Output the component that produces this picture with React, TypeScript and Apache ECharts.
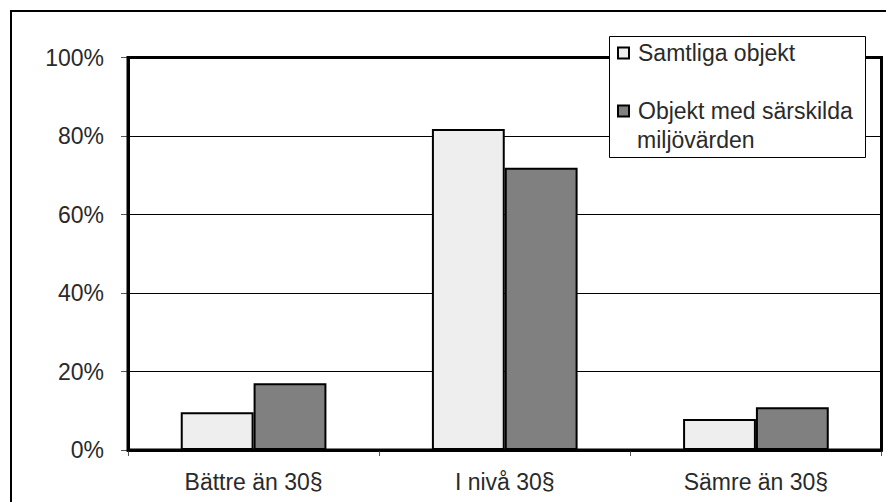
import React, { useEffect, useRef } from "react";
import * as echarts from "echarts";

const categories = ["Bättre än 30§", "I nivå 30§", "Sämre än 30§"];
const seriesNames = ["Samtliga objekt", "Objekt med särskilda"];
const samtliga = [9.6, 81.8, 7.9];
const sarskilda = [17.0, 71.9, 10.9];
const legendSecondLine = "miljövärden";

const FONT = "'Liberation Sans', Arial, sans-serif";
const TXT = "#2a2a2a";
const FS = 23;

export default function App() {
  const ref = useRef<HTMLDivElement>(null);
  useEffect(() => {
    if (!ref.current) return;
    const chart = echarts.init(ref.current, null, { renderer: "svg" });
    chart.setOption({
      animation: false,
      backgroundColor: "#fff",
      textStyle: { fontFamily: FONT },
      grid: {
        left: 128,
        right: 4.5,
        top: 57.5,
        bottom: 52,
        show: true,
        borderColor: "#000",
        borderWidth: 3,
        z: 2,
      },
      legend: {
        orient: "vertical",
        left: 617,
        top: 41.5,
        padding: 0,
        itemWidth: 11,
        itemHeight: 11,
        itemGap: 35,
        icon: "rect",
        z: 20,
        data: seriesNames,
        textStyle: { fontSize: FS, color: TXT, fontFamily: FONT, padding: [0, 0, 0, 4] },
      },
      xAxis: {
        type: "category",
        data: categories,
        axisLine: { lineStyle: { color: "#000", width: 3 } },
        axisTick: { show: true, length: 6, lineStyle: { color: "#555", width: 1 } },
        axisLabel: { color: TXT, fontSize: FS, margin: 20, fontFamily: FONT },
      },
      yAxis: {
        type: "value",
        min: 0,
        max: 100,
        interval: 20,
        axisLine: { show: true, lineStyle: { color: "#000", width: 3 } },
        axisTick: { show: true, length: 7, lineStyle: { color: "#555", width: 1 } },
        axisLabel: { color: TXT, fontSize: FS, margin: 24, formatter: "{value}%", fontFamily: FONT },
        splitLine: { show: true, lineStyle: { color: "#000", width: 1 } },
      },
      graphic: [
        {
          type: "rect",
          z: 0,
          silent: true,
          shape: { x: 11, y: 11, width: 900, height: 600 },
          style: { fill: "none", stroke: "#000", lineWidth: 2 },
        },
        {
          type: "rect",
          z: 10,
          silent: true,
          shape: { x: 609.5, y: 36.5, width: 256, height: 121 },
          style: { fill: "#fff", stroke: "#000", lineWidth: 1 },
        },
        {
          type: "text",
          z: 21,
          silent: true,
          x: 637,
          y: 140,
          style: {
            text: legendSecondLine,
            fontSize: FS,
            fontFamily: FONT,
            fill: TXT,
            verticalAlign: "middle",
            align: "left",
          },
        },
      ],
      series: [
        {
          name: seriesNames[0],
          type: "bar",
          data: samtliga,
          barGap: "0%",
          barCategoryGap: "42%",
          itemStyle: { color: "#eeeeee", borderColor: "#000", borderWidth: 2 },
          z: 3,
        },
        {
          name: seriesNames[1],
          type: "bar",
          data: sarskilda,
          barGap: "0%",
          barCategoryGap: "42%",
          itemStyle: { color: "#808080", borderColor: "#000", borderWidth: 2 },
          z: 3,
        },
      ],
    });
    return () => chart.dispose();
  }, []);
  return (
    <div
      ref={ref}
      style={{ position: "fixed", left: 0, top: 0, width: 886, height: 502 }}
    />
  );
}
